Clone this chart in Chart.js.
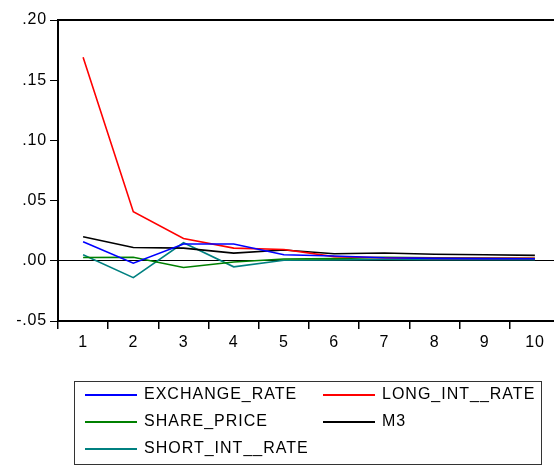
<!DOCTYPE html>
<html>
<head>
<meta charset="utf-8">
<script src="https://cdn.jsdelivr.net/npm/chart.js@4"></script>
<style>
  html, body { margin:0; padding:0; background:#fff; overflow:hidden; }
  #wrap { position:relative; width:562px; height:466px; }
  #legend {
    position:absolute; left:74px; top:381px; width:468px; height:84px;
    border:1px solid #333; box-sizing:border-box;
    font-family:"Liberation Sans", Arial, sans-serif; font-size:16px; color:#000;
    letter-spacing:1px;
  }
  .item { position:absolute; height:20px; line-height:20px; white-space:nowrap; }
  .item span.swatch { position:absolute; left:0; top:10px; width:52px; height:2px; }
  .item span.txt { position:absolute; left:59px; top:0; }
</style>
</head>
<body>
<div id="wrap">
  <canvas id="chart" width="562" height="466"></canvas>
  <div id="legend"></div>
</div>
<script>
// periods
const periods = ['1','2','3','4','5','6','7','8','9','10'];

// series values
const exchangeRate = [0.0158, -0.002, 0.014, 0.014, 0.005, 0.004, 0.0025, 0.002, 0.0018, 0.0017];
const longIntRate  = [0.169, 0.0407, 0.0185, 0.0105, 0.0094, 0.0035, 0.0025, 0.002, 0.002, 0.002];
const sharePrice   = [0.0027, 0.003, -0.0055, -0.001, 0.0015, 0.0018, 0.003, 0.0025, 0.0022, 0.002];
const m3           = [0.02, 0.011, 0.0105, 0.0064, 0.009, 0.0058, 0.0065, 0.0055, 0.005, 0.0045];
const shortIntRate = [0.005, -0.014, 0.015, -0.005, 0.0005, 0.0008, 0.0012, 0.001, 0.001, 0.001];

const seriesNames = ['EXCHANGE_RATE', 'LONG_INT__RATE', 'SHARE_PRICE', 'M3', 'SHORT_INT__RATE'];
const seriesColors = ['#0000ff', '#ff0000', '#008000', '#000000', '#008080'];
const seriesData = [exchangeRate, longIntRate, sharePrice, m3, shortIntRate];

// y tick labels like ".20" / "-.05"
function fmtTick(v){
  let s = Math.abs(v).toFixed(2).replace(/^0/, '');
  return (v < -1e-9 ? '-' : '') + s;
}

// frame round the plot area
const framePlugin = {
  id: 'frame',
  beforeDraw(chart){
    // EViews text is a little spaced out
    chart.ctx.letterSpacing = '0.8px';
  },
  afterDraw(chart){
    const a = chart.chartArea;
    const ctx = chart.ctx;
    ctx.save();
    ctx.strokeStyle = '#000';
    ctx.lineWidth = 2;
    ctx.strokeRect(a.left, a.top, a.right - a.left, a.bottom - a.top);
    ctx.restore();
  }
};

const datasets = seriesNames.map((name, i) => ({
  label: name,
  data: seriesData[i],
  borderColor: seriesColors[i],
  backgroundColor: seriesColors[i],
  borderWidth: 1.6,
  pointRadius: 0,
  tension: 0,
  fill: false
}));

const ctx = document.getElementById('chart').getContext('2d');
const myChart = new Chart(ctx, {
  type: 'line',
  data: { labels: periods, datasets: datasets },
  options: {
    responsive: false,
    animation: false,
    layout: { padding: { top: 20, right: 2, bottom: 0, left: 0 } },
    plugins: { legend: { display: false }, tooltip: { enabled: false } },
    scales: {
      x: {
        offset: true,
        afterFit(scale){ scale.height = 145; },
        grid: {
          offset: true,
          drawOnChartArea: false,
          drawTicks: true,
          tickLength: 8,
          tickColor: '#000',
          lineWidth: 1.5
        },
        border: { display: false },
        ticks: {
          color: '#000',
          padding: 4,
          font: { family: 'Liberation Sans', size: 16 },
          maxRotation: 0
        }
      },
      y: {
        min: -0.05,
        max: 0.2,
        afterFit(scale){ scale.width = 58; },
        grid: {
          drawTicks: true,
          tickLength: 8,
          tickColor: '#000',
          color: (c) => (c.tick && Math.abs(c.tick.value) < 1e-9) ? '#000' : 'rgba(0,0,0,0)',
          lineWidth: 1
        },
        border: { display: false },
        ticks: {
          stepSize: 0.05,
          color: '#000',
          padding: 3,
          font: { family: 'Liberation Sans', size: 16 },
          callback: (v) => fmtTick(v)
        }
      }
    }
  },
  plugins: [framePlugin]
});

// legend in two columns, like the original
const legendPos = [
  { x: 10, y: 2 }, { x: 248, y: 2 },
  { x: 10, y: 29 }, { x: 248, y: 29 },
  { x: 10, y: 56 }
];
const legend = document.getElementById('legend');
datasets.forEach((ds, i) => {
  const div = document.createElement('div');
  div.className = 'item';
  div.style.left = legendPos[i].x + 'px';
  div.style.top = legendPos[i].y + 'px';
  div.innerHTML = '<span class="swatch" style="background:' + ds.borderColor + '"></span>' +
                  '<span class="txt">' + ds.label + '</span>';
  legend.appendChild(div);
});
</script>
</body>
</html>
